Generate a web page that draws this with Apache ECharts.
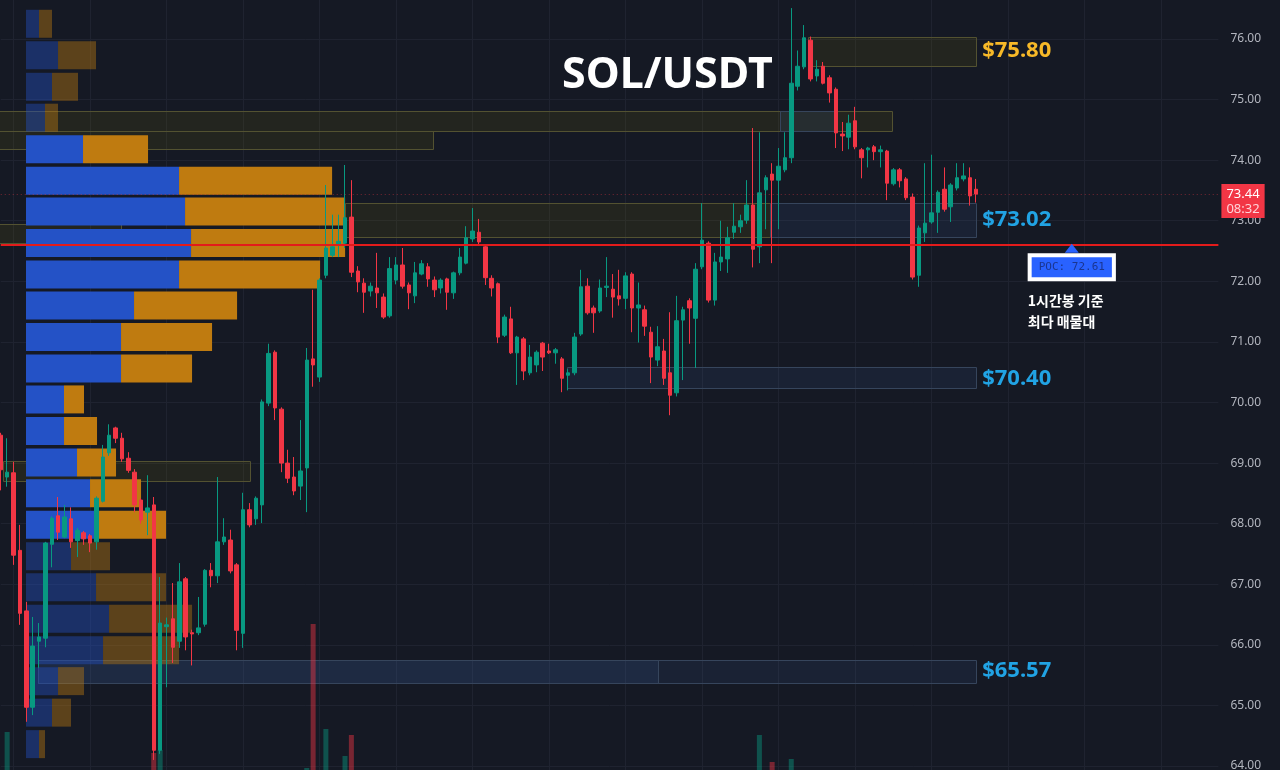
<!DOCTYPE html>
<html>
<head>
<meta charset="utf-8">
<script src="https://cdn.jsdelivr.net/npm/echarts@6/dist/echarts.min.js"></script>
<style>
html, body { margin: 0; padding: 0; background: #151924; }
#chart { width: 1280px; height: 770px; }
</style>
</head>
<body>
<div id="chart"></div>
<script>
// 1h candles, SOL/USDT
var opens = [69.46,68.77,68.84,67.56,66.56,64.97,66.06,66.11,67.66,68.13,
 67.78,68.08,67.72,67.85,67.80,67.70,68.37,69.17,69.58,69.41,
 69.08,68.85,68.39,68.19,68.31,64.26,66.30,66.43,66.06,67.09,
 66.20,66.20,66.34,67.23,67.14,67.70,67.73,67.32,66.19,68.23,
 68.08,68.31,69.99,70.83,69.89,69.00,68.77,68.62,68.92,70.72,
 70.42,72.10,72.43,72.60,72.63,73.06,72.17,71.97,71.84,71.89,
 71.74,71.43,72.02,72.27,71.94,71.76,72.12,72.24,72.02,71.89,
 72.04,71.81,72.14,72.30,72.70,72.81,72.57,72.05,71.96,71.11,
 71.38,70.82,71.05,70.49,70.62,70.98,70.85,70.82,70.72,70.45,
 70.49,71.13,71.92,71.56,71.51,71.90,71.87,71.76,71.72,72.12,
 71.56,71.53,71.16,70.70,70.85,70.49,70.16,71.36,71.68,71.39,
 72.24,72.63,71.69,72.32,72.37,72.81,72.90,73.01,73.26,72.57,
 73.51,73.77,73.67,73.84,74.04,75.22,75.54,75.98,75.39,75.55,
 75.36,75.17,74.43,74.38,74.65,74.17,74.17,74.22,74.14,74.15,
 73.61,73.84,73.69,73.39,72.10,72.80,72.98,73.14,73.52,73.23,
 73.54,73.69,73.71,73.52];
var closes = [68.89,68.85,67.48,66.52,64.97,65.98,66.13,67.68,68.09,67.86,
 68.11,67.70,67.89,67.75,67.68,68.42,69.10,69.46,69.41,69.07,
 68.88,68.31,68.06,68.26,64.26,66.36,66.33,65.96,67.04,66.13,
 66.18,66.28,67.23,67.14,67.70,67.78,67.22,66.24,68.23,67.98,
 68.42,70.01,70.81,69.91,69.00,68.75,68.54,68.87,70.70,70.62,
 72.02,72.55,72.57,72.66,73.05,72.15,71.99,71.82,71.92,71.81,
 71.41,72.21,72.27,71.92,71.81,72.14,72.29,72.04,71.86,72.02,
 71.82,72.14,72.40,72.72,72.83,72.65,72.06,71.89,71.08,71.41,
 70.82,71.08,70.52,70.75,70.83,70.75,70.82,70.87,70.40,70.49,
 71.08,71.91,71.48,71.48,71.89,71.92,71.74,71.71,72.09,71.56,
 71.61,71.26,70.75,70.92,70.40,70.12,71.35,71.53,71.56,72.20,
 72.68,71.69,72.32,72.40,72.72,72.91,73.00,73.26,72.53,73.46,
 73.71,73.67,73.90,74.04,75.27,75.55,76.02,75.34,75.50,75.27,
 75.11,74.45,74.40,74.61,74.22,74.04,74.20,74.14,74.17,73.62,
 73.84,73.66,73.38,72.07,72.88,72.96,73.13,73.47,73.19,73.59,
 73.71,73.74,73.41,73.44];
var lows = [68.55,68.61,67.32,66.33,64.73,64.84,65.62,65.96,67.28,67.73,
 67.76,67.60,67.45,67.65,67.53,67.57,68.35,69.12,69.33,69.02,
 68.84,68.19,68.00,67.81,64.10,64.20,65.30,65.70,65.95,65.91,
 65.66,66.16,66.30,66.95,67.02,67.65,67.18,65.91,65.95,67.94,
 67.98,68.01,69.94,69.71,68.85,68.67,68.47,68.39,68.19,70.26,
 70.34,72.05,72.40,72.40,72.55,72.07,71.82,71.48,71.75,71.56,
 71.38,71.40,71.95,71.88,71.54,71.64,72.10,71.91,71.74,71.80,
 71.53,71.71,72.10,72.28,72.65,72.60,71.94,71.75,70.98,71.08,
 70.80,70.29,70.37,70.45,70.50,70.52,70.80,70.64,70.17,70.20,
 70.45,71.10,71.45,71.15,71.48,71.74,71.40,71.60,71.54,71.16,
 70.99,71.10,70.32,70.60,70.29,69.79,70.10,70.37,70.97,70.57,
 72.20,71.65,71.60,72.17,72.14,72.70,72.80,72.95,72.23,72.30,
 72.86,72.30,72.86,73.80,73.95,75.15,75.50,75.30,75.30,75.25,
 74.95,74.20,74.15,74.18,74.18,73.70,73.88,74.00,73.88,73.34,
 73.58,73.55,73.34,72.03,71.91,72.65,72.95,72.80,73.15,72.98,
 73.50,73.65,73.25,73.30];
var highs = [69.50,69.41,69.02,67.98,66.71,66.46,66.36,67.70,68.12,68.44,
 68.31,68.27,67.93,67.88,67.83,68.45,69.30,69.64,69.60,69.50,
 69.18,68.90,68.42,68.80,68.44,67.12,66.45,67.02,67.35,67.12,
 66.25,66.79,67.25,67.35,68.77,68.09,67.90,67.35,68.51,68.34,
 68.45,70.05,70.97,70.86,69.92,69.22,69.10,69.71,70.90,71.86,
 72.05,73.59,73.10,73.10,73.92,73.67,72.25,72.05,71.98,72.47,
 71.80,72.40,72.40,72.55,71.98,72.32,72.35,72.30,72.08,72.05,
 72.06,72.16,72.55,72.91,73.21,73.03,72.60,72.10,71.98,71.45,
 71.58,71.10,71.08,70.95,70.86,71.00,70.97,70.90,70.75,70.55,
 71.15,72.19,72.05,71.60,72.03,72.40,72.12,72.19,72.15,72.15,
 71.98,71.60,71.25,71.26,71.05,71.49,71.76,71.58,71.72,72.30,
 73.29,72.66,72.47,73.00,72.90,73.29,73.10,73.67,74.53,74.46,
 73.75,73.95,74.20,74.46,76.51,75.81,76.23,76.04,75.65,75.62,
 75.40,75.20,74.63,74.75,74.88,74.20,74.22,74.25,74.24,74.17,
 73.87,73.87,73.72,73.45,72.92,73.95,74.09,73.50,73.88,73.62,
 73.95,73.95,73.88,73.69];

// volume bars that reach into view (candle index, volume)
var volIdx = [1, 24, 25, 48, 49, 51, 54, 55, 119, 121, 124];
var volVal = [56, 49, 50, 44, 92, 57, 48, 55, 55, 46, 47];

// volume profile rows (bottom price of each row), buy / sell volume
var profileLow = [76.02,75.50,74.98,74.47,73.95,73.43,72.92,72.40,71.88,71.37,
 70.85,70.33,69.82,69.30,68.78,68.27,67.75,67.23,66.72,66.20,65.68,65.17,64.65,64.13];
var profileBuy = [13,32,26,19,57,153,159,165,153,108,95,95,38,38,51,64,72,45,70,83,77,32,26,13];
var profileSell = [13,38,26,13,65,153,160,154,141,103,91,71,20,33,39,51,68,39,70,83,76,26,19,6];
var vaLow = 67.75, vaHigh = 74.41;
var pocPrice = 72.61;

// zones (candle index from/to, price bottom/top, kind)
var zoneFrom = [126.6, -0.2, -0.2, 122.2, 54, 120.7, -0.2, 88.8, 0.3, 5.8, 5.8];
var zoneTo = [153, 139.8, 67.8, 130.9, 120.7, 153, 19, 153, 39.1, 153, 103];
var zoneBottom = [75.55, 74.48, 74.18, 74.48, 72.73, 72.73, 72.63, 70.24, 68.70, 65.37, 65.37];
var zoneTop = [76.03, 74.81, 74.48, 74.81, 73.29, 73.29, 72.95, 70.59, 69.03, 65.75, 65.75];
var zoneKind = ['y', 'y', 'y', 'b', 'y', 'b', 'y', 'b', 'y', 'b', 'b'];

var levelPrice = [75.80, 73.02, 70.40, 65.57];
var levelKind = ['y', 'b', 'b', 'b'];

var CAT_COUNT = 192;
var cats = [];
for (var c = 0; c < CAT_COUNT; c++) cats.push(String(c));

var candleData = opens.map(function (o, i) {
    return [o, closes[i], lows[i], highs[i]];
});

var volData = volIdx.map(function (idx, k) {
    var up = closes[idx] >= opens[idx];
    return {
        value: [idx, volVal[k]],
        itemStyle: {color: up ? 'rgba(8,153,129,0.45)' : 'rgba(242,54,69,0.45)'}
    };
});

var zoneStyle = {
    y: {fill: 'rgba(130,125,0,0.13)', stroke: '#535231'},
    b: {fill: 'rgba(60,100,160,0.13)', stroke: '#36455c'}
};

var lastPrice = closes[closes.length - 1];

var GRID_LEFT = 0.75, GRID_RIGHT = 61.6, GRID_TOP = -21.6, GRID_BOTTOM = -56.6;

var myChart = echarts.init(document.getElementById('chart'));

var option = {
    backgroundColor: '#151924',
    animation: false,
    title: {
        text: 'SOL/USDT',
        left: 557,
        top: 49,
        textStyle: {color: '#ffffff', fontSize: 43, fontWeight: 'bold', fontFamily: 'Noto Sans'}
    },
    grid: [
        {left: GRID_LEFT, right: GRID_RIGHT, top: GRID_TOP, bottom: GRID_BOTTOM, outerBoundsMode: 'none', containLabel: false},
        {left: 26, right: GRID_RIGHT, top: GRID_TOP, bottom: GRID_BOTTOM, outerBoundsMode: 'none', containLabel: false},
        {left: GRID_LEFT, right: GRID_RIGHT, top: 600, bottom: -130, outerBoundsMode: 'none', containLabel: false}
    ],
    xAxis: [
        {
            type: 'category', gridIndex: 0, data: cats, boundaryGap: false,
            axisLine: {show: false}, axisTick: {show: false}, axisLabel: {show: false},
            splitLine: {
                show: true,
                interval: function (index) { return index % 12 === 2; },
                lineStyle: {color: '#1f2330', width: 1}
            }
        },
        {type: 'value', gridIndex: 0, min: 0, max: CAT_COUNT - 1, show: false},
        {type: 'value', gridIndex: 1, min: 0, max: 1192, show: false},
        {type: 'category', gridIndex: 2, data: cats, boundaryGap: false, show: false}
    ],
    yAxis: [
        {
            type: 'value', gridIndex: 0, position: 'right', min: 63, max: 77, interval: 1,
            axisLine: {show: false}, axisTick: {show: false},
            axisLabel: {
                color: '#b2b5be', fontSize: 12, margin: 12, fontFamily: 'Noto Sans',
                formatter: function (v) { return v.toFixed(2); }
            },
            splitLine: {lineStyle: {color: '#1f2330', width: 1}}
        },
        {type: 'value', gridIndex: 1, min: 63, max: 77, show: false},
        {type: 'value', gridIndex: 2, min: 0, max: 100, show: false}
    ],
    series: [
        {
            name: 'zones',
            type: 'custom',
            xAxisIndex: 1,
            yAxisIndex: 0,
            z: 1,
            silent: true,
            data: zoneFrom.map(function (v, i) { return [v, zoneTo[i], zoneBottom[i], zoneTop[i]]; }),
            renderItem: function (params, api) {
                var i = params.dataIndex;
                var a = api.coord([zoneFrom[i], zoneTop[i]]);
                var b = api.coord([zoneTo[i], zoneBottom[i]]);
                var st = zoneStyle[zoneKind[i]];
                return {
                    type: 'rect',
                    shape: {x: Math.round(a[0]) + 0.5, y: Math.round(a[1]) + 0.5, width: Math.round(b[0] - a[0]), height: Math.round(b[1] - a[1])},
                    style: {fill: st.fill, stroke: st.stroke, lineWidth: 1}
                };
            }
        },
        {
            name: 'profile',
            type: 'custom',
            xAxisIndex: 2,
            yAxisIndex: 1,
            z: 2,
            silent: true,
            data: profileLow.map(function (p, i) { return [profileBuy[i] + profileSell[i], p]; }),
            renderItem: function (params, api) {
                var i = params.dataIndex;
                var low = profileLow[i];
                var inVA = low >= vaLow - 0.01 && low < vaHigh;
                var op = inVA ? 1 : 0.42;
                var p0 = api.coord([0, low + 0.462]);
                var p1 = api.coord([profileBuy[i], low]);
                var p2 = api.coord([profileBuy[i] + profileSell[i], low]);
                return {
                    type: 'group',
                    children: [
                        {type: 'rect', shape: {x: p0[0], y: p0[1], width: p1[0] - p0[0], height: p1[1] - p0[1]},
                         style: {fill: '#2452c6', opacity: op}},
                        {type: 'rect', shape: {x: p1[0], y: p0[1], width: p2[0] - p1[0], height: p1[1] - p0[1]},
                         style: {fill: '#bf7b10', opacity: op}}
                    ]
                };
            }
        },
        {
            name: 'volume',
            type: 'bar',
            xAxisIndex: 3,
            yAxisIndex: 2,
            z: 2,
            barWidth: 5,
            silent: true,
            data: volData
        },
        {
            name: 'SOL/USDT',
            type: 'candlestick',
            xAxisIndex: 0,
            yAxisIndex: 0,
            z: 3,
            barWidth: 4,
            data: candleData,
            itemStyle: {
                color: '#089981',
                color0: '#f23645',
                borderColor: '#089981',
                borderColor0: '#f23645',
                borderWidth: 1
            },
            markLine: {
                symbol: ['none', 'none'],
                silent: true,
                animation: false,
                z: 5,
                data: [
                    {
                        yAxis: pocPrice,
                        lineStyle: {color: '#e31b1b', width: 2, type: 'solid', opacity: 1},
                        label: {show: false}
                    },
                    {
                        yAxis: lastPrice,
                        lineStyle: {color: 'rgba(242,54,69,0.45)', width: 1, type: [1, 3], opacity: 1},
                        label: {
                            show: true,
                            position: 'end',
                            distance: 3,
                            offset: [0, 7],
                            formatter: '{a|' + lastPrice.toFixed(2) + '}\n{b|08:32}',
                            backgroundColor: '#f23645',
                            padding: [3, 5, 1, 5],
                            rich: {
                                a: {color: '#ffffff', fontSize: 13, lineHeight: 15, fontFamily: 'Noto Sans'},
                                b: {color: '#ffd3d8', fontSize: 13, lineHeight: 15, fontFamily: 'Noto Sans'}
                            }
                        }
                    }
                ]
            }
        },
        {
            name: 'levels',
            type: 'scatter',
            xAxisIndex: 1,
            yAxisIndex: 0,
            z: 6,
            silent: true,
            symbolSize: 0,
            itemStyle: {opacity: 1},
            data: levelPrice.map(function (p, i) {
                return {
                    value: [opens.length - 1, p],
                    label: {
                        show: true,
                        position: 'right',
                        distance: 6,
                        formatter: '$' + p.toFixed(2),
                        color: levelKind[i] === 'y' ? '#f7b928' : '#21a3e4',
                        fontSize: 22,
                        fontWeight: 'bold',
                        fontFamily: 'Noto Sans'
                    }
                };
            })
        },
        {
            name: 'poc',
            type: 'scatter',
            xAxisIndex: 1,
            yAxisIndex: 0,
            z: 7,
            silent: true,
            itemStyle: {opacity: 1},
            data: [
                {
                    value: [168, pocPrice],
                    symbol: 'triangle',
                    symbolSize: [14, 9],
                    symbolOffset: [0, 4],
                    itemStyle: {color: '#2962ff', opacity: 1}
                },
                {
                    value: [168, pocPrice],
                    symbolSize: 0,
                    label: {
                        show: true,
                        position: 'inside',
                        offset: [0, 23],
                        formatter: 'POC: ' + pocPrice.toFixed(2),
                        backgroundColor: '#2962ff',
                        borderColor: '#ffffff',
                        borderWidth: 4,
                        padding: [5, 7, 4, 7],
                        color: '#1a3590',
                        fontSize: 11,
                        fontFamily: 'DejaVu Sans Mono'
                    }
                },
                {
                    value: [168, pocPrice],
                    symbolSize: 0,
                    label: {
                        show: true,
                        position: 'inside',
                        offset: [-44, 67],
                        align: 'left',
                        formatter: '1시간봉 기준\n최다 매물대',
                        color: '#ffffff',
                        fontSize: 14,
                        lineHeight: 21,
                        fontWeight: 'bold',
                        fontFamily: 'Noto Sans CJK KR'
                    }
                }
            ]
        }
    ]
};

myChart.setOption(option);
</script>
</body>
</html>
